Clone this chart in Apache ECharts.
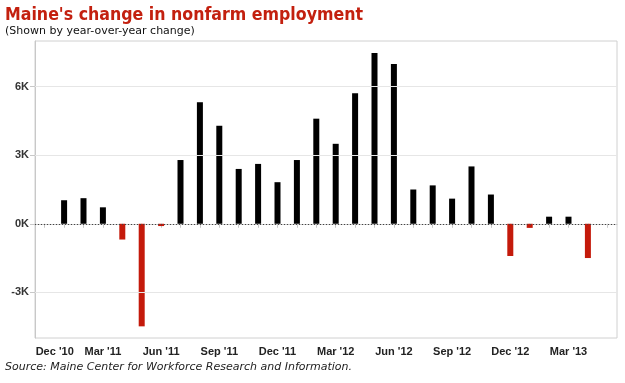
<!DOCTYPE html>
<html><head><meta charset="utf-8">
<script src="https://cdn.jsdelivr.net/npm/echarts@6/dist/echarts.min.js"></script>
<style>html,body{margin:0;padding:0;background:#fff}#c{width:625px;height:383px}</style>
</head><body><div id="c"></div>
<script>
const categories = ["Dec '10","Jan '11","Feb '11","Mar '11","Apr '11","May '11","Jun '11","Jul '11","Aug '11","Sep '11","Oct '11","Nov '11","Dec '11","Jan '12","Feb '12","Mar '12","Apr '12","May '12","Jun '12","Jul '12","Aug '12","Sep '12","Oct '12","Nov '12","Dec '12","Jan '13","Feb '13","Mar '13","Apr '13","May '13"];
const changeValues = [null,1030,1120,720,-690,-4490,-100,2790,5320,4290,2400,2620,1820,2790,4600,3500,5710,7470,6990,1500,1680,1100,2510,1280,-1410,-180,310,310,-1500,null];
const yTicks = [-3000,0,3000,6000];
const gridValues = [-3000,3000,6000];

const chart = echarts.init(document.getElementById('c'), null, {renderer:'canvas'});
chart.setOption({
  animation:false,
  backgroundColor:'#fff',
  title:{
    left:5, top:6, padding:0,
    text:"Maine's change in nonfarm employment",
    subtext:"(Shown by year-over-year change)",
    itemGap:2,
    textStyle:{fontFamily:'DejaVu Sans Condensed', fontWeight:'bold', fontSize:17.6, color:'#c3200f'},
    subtextStyle:{fontFamily:'DejaVu Sans', fontSize:11, color:'#111'}
  },
  graphic:[{type:'text', left:5, top:362, style:{text:'Source: Maine Center for Workforce Research and Information.', font:'italic 11px "DejaVu Sans"', fill:'#222'}}],
  grid:{left:35, right:8, top:41, bottom:45, show:true, borderColor:'#d0d0d0', borderWidth:1},
  xAxis:{
    type:'category', data:categories, boundaryGap:true,
    axisLine:{show:true, lineStyle:{color:'#c8c8c8'}},
    axisTick:{show:true, interval:0, alignWithLabel:true, length:4, lineStyle:{color:'#c8c8c8'}},
    axisLabel:{interval:2, margin:8, fontFamily:'Liberation Sans', fontWeight:'bold', fontSize:11, color:'#222',
      formatter:(v,i)=> i===0 ? '{a|'+v+'}' : v,
      rich:{a:{padding:[0,0,0,20], fontFamily:'Liberation Sans', fontWeight:'bold', fontSize:11, color:'#222'}}}
  },
  yAxis:{
    type:'value', min:-5000, max:8000,
    axisLine:{show:true, lineStyle:{color:'#c8c8c8'}},
    axisTick:{show:true, length:5, customValues:yTicks, lineStyle:{color:'#c8c8c8'}},
    axisLabel:{customValues:yTicks, margin:6, fontFamily:'Liberation Sans', fontWeight:'bold', fontSize:11, color:'#333',
      formatter:v=> (v/1000)+'K'},
    splitLine:{show:false}
  },
  series:[{
    type:'line', data:[], z:1,
    markLine:{silent:true, symbol:'none', label:{show:false},
      data:gridValues.map(v=>({yAxis:v, lineStyle:{color:'#e6e6e6', type:'solid', width:1}}))}
  },{
    type:'bar', data:changeValues, barWidth:6, z:3,
    itemStyle:{color:p=> p.value<0 ? '#c41a0b' : '#000'},
    markLine:{silent:true, symbol:'none', label:{show:false},
      data:[{yAxis:0, lineStyle:{color:'#444', type:[1,2], width:1}}]}
  }]
});
</script></body></html>
